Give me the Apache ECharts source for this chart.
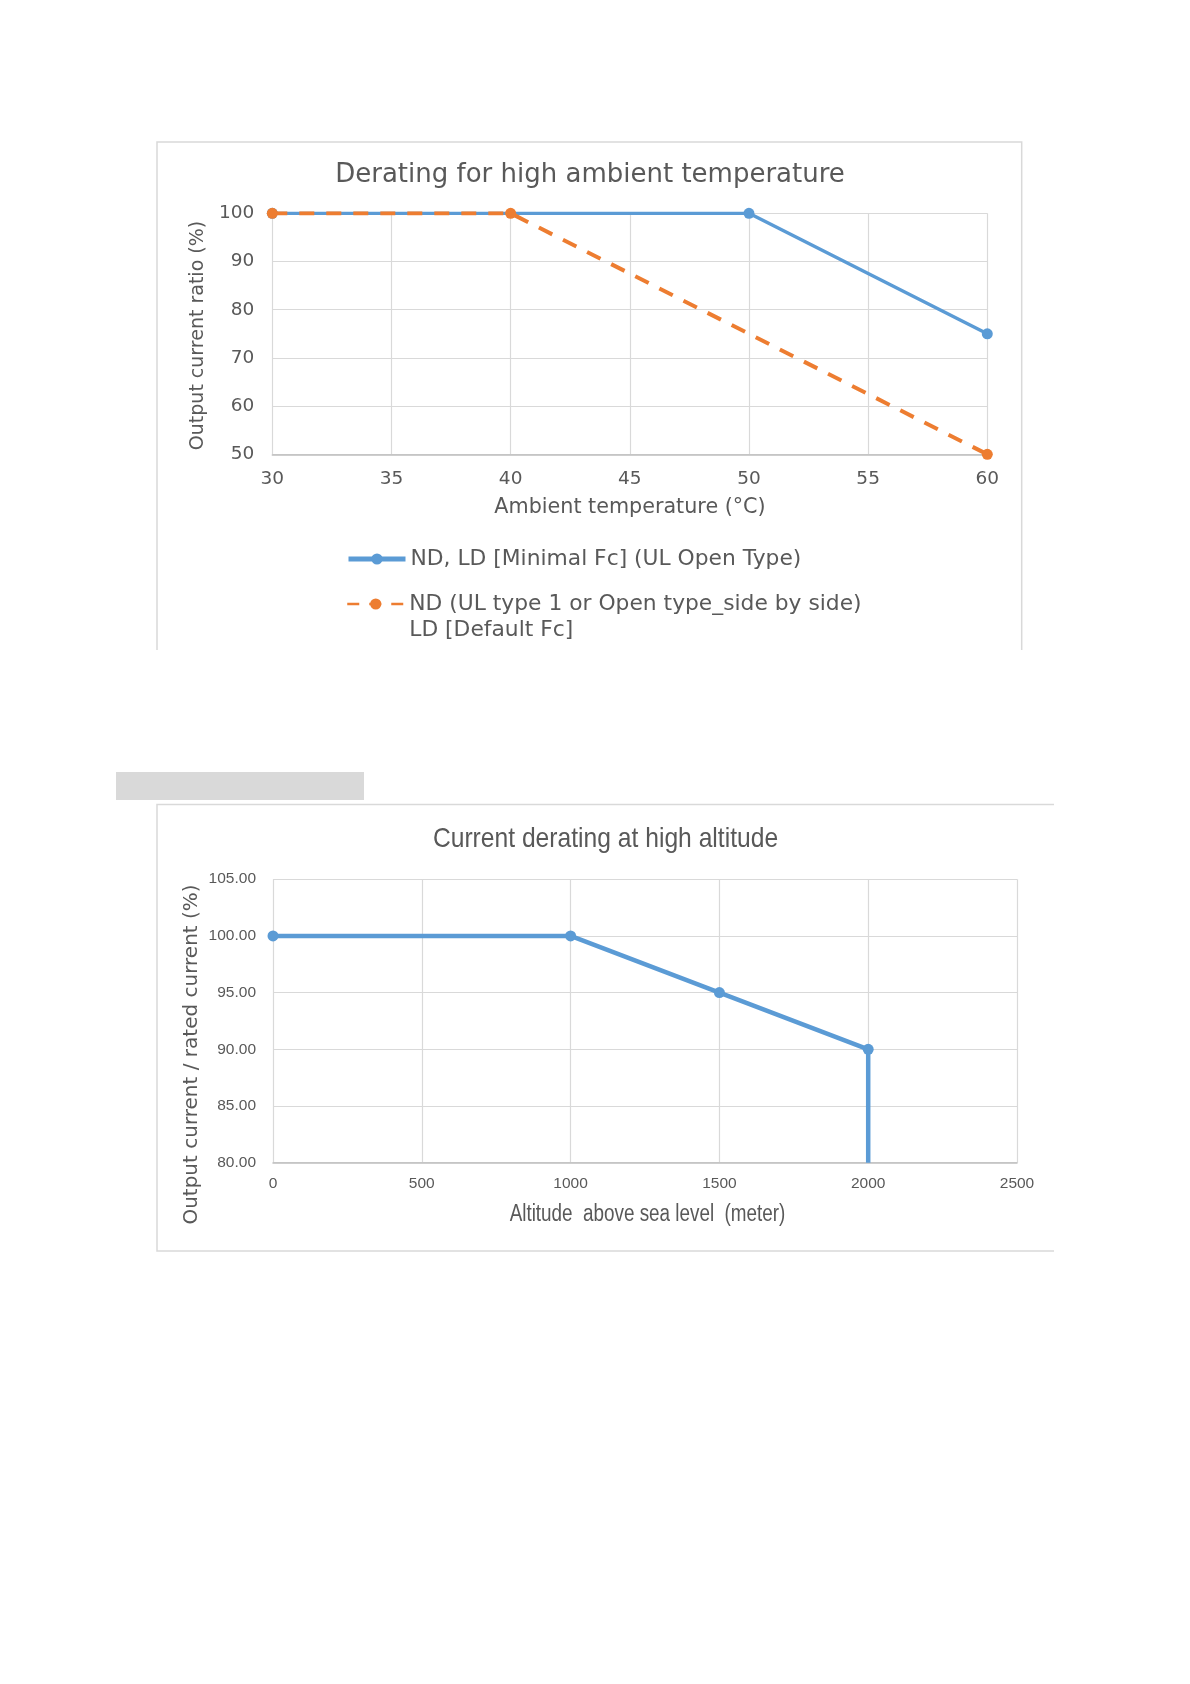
<!DOCTYPE html>
<html><head><meta charset="utf-8">
<script src="https://cdn.jsdelivr.net/npm/echarts@6/dist/echarts.min.js"></script>
<style>html,body{margin:0;padding:0;background:#fff}#c{width:1190px;height:1684px}</style>
</head><body><div id="c"></div>
<script>
// ---- Data: chart 1 (ambient temperature derating) ----
const tempTitle = 'Derating for high ambient temperature';
const tempXName = 'Ambient temperature (°C)';
const tempYName = 'Output current ratio (%)';
const blueName = 'ND, LD [Minimal Fc] (UL Open Type)';
const orangeName = 'ND (UL type 1 or Open type_side by side)\nLD [Default Fc]';
const blueTemp = [30, 50, 60];
const blueRatio = [100, 100, 75];
const orangeTemp = [30, 40, 60];
const orangeRatio = [100, 100, 50];

// ---- Data: chart 2 (altitude derating) ----
const altTitle = 'Current derating at high altitude';
const altXName = 'Altitude  above sea level  (meter)';
const altYName = 'Output current / rated current (%)';
const altMeters = [0, 1000, 1500, 2000, 2000];
const altRatio = [100, 100, 95, 90, 80];

const TXT = '#595959';
const GRID = '#D9D9D9';
const F1 = 'DejaVu Sans';
const F2 = 'Liberation Sans';

const zip = (a, b) => a.map((v, i) => [v, b[i]]);

const chart = echarts.init(document.getElementById('c'), null, {renderer: 'canvas'});
const axisLabel1 = {color: TXT, fontFamily: F1, fontSize: 18.5};
const axisLabel2 = {color: TXT, fontFamily: F2, fontSize: 15.5};
const legendText = {fontFamily: F1, fontSize: 21.8, color: TXT, lineHeight: 26};

chart.setOption({
  animation: false,
  grid: [
    {left: 272.3, top: 213.3, width: 715, height: 241},
    {left: 273, top: 879.2, width: 744, height: 283.5}
  ],
  xAxis: [
    {type: 'value', gridIndex: 0, min: 30, max: 60, interval: 5,
      axisLine: {show: true, lineStyle: {color: '#BFBFBF', width: 1.5}},
      axisTick: {show: false},
      splitLine: {show: true, lineStyle: {color: GRID, width: 1.2}},
      axisLabel: Object.assign({margin: 15}, axisLabel1)},
    {type: 'value', gridIndex: 1, min: 0, max: 2500, interval: 500,
      axisLine: {show: true, lineStyle: {color: '#BFBFBF', width: 1.5}},
      axisTick: {show: false},
      splitLine: {show: true, lineStyle: {color: GRID, width: 1.2}},
      axisLabel: Object.assign({margin: 13, formatter: v => String(v)}, axisLabel2)}
  ],
  yAxis: [
    {type: 'value', gridIndex: 0, min: 50, max: 100, interval: 10,
      axisLine: {show: false}, axisTick: {show: false},
      splitLine: {show: true, lineStyle: {color: GRID, width: 1.2}},
      axisLabel: Object.assign({margin: 18}, axisLabel1)},
    {type: 'value', gridIndex: 1, min: 80, max: 105, interval: 5,
      axisLine: {show: false}, axisTick: {show: false},
      splitLine: {show: true, lineStyle: {color: GRID, width: 1.2}},
      axisLabel: Object.assign({margin: 17, formatter: v => v.toFixed(2)}, axisLabel2)}
  ],
  legend: [
    {data: [blueName], orient: 'vertical', left: 346, top: 546, padding: 0,
      itemWidth: 57, itemHeight: 14, itemGap: 0, selectedMode: false,
      lineStyle: {width: 5}, textStyle: legendText},
    {data: [orangeName], orient: 'vertical', left: 346, top: 565, padding: 0,
      itemWidth: 57, itemHeight: 14, itemGap: 0, selectedMode: false,
      formatter: name => '\n' + name,
      lineStyle: {width: 2.5, type: [12, 10]}, textStyle: legendText}
  ],
  series: [
    {name: blueName, type: 'line', xAxisIndex: 0, yAxisIndex: 0,
      data: zip(blueTemp, blueRatio), symbol: 'circle', symbolSize: 11,
      lineStyle: {color: '#5B9BD5', width: 3.5}, itemStyle: {color: '#5B9BD5'}, z: 2},
    {name: orangeName, type: 'line', xAxisIndex: 0, yAxisIndex: 0,
      data: zip(orangeTemp, orangeRatio), symbol: 'circle', symbolSize: 11,
      lineStyle: {color: '#ED7D31', width: 4, type: [15, 12]}, itemStyle: {color: '#ED7D31'}, z: 3},
    {name: 'altitude', type: 'line', xAxisIndex: 1, yAxisIndex: 1,
      data: zip(altMeters, altRatio),
      symbol: (v, p) => (p.dataIndex === altMeters.length - 1 ? 'none' : 'circle'), symbolSize: 11,
      lineStyle: {color: '#5B9BD5', width: 4.5}, itemStyle: {color: '#5B9BD5'}}
  ],
  graphic: [
    {type: 'polyline', shape: {points: [[157, 650], [157, 142], [1021.7, 142], [1021.7, 650]]},
      style: {stroke: GRID, lineWidth: 1.5, fill: null}, silent: true},
    {type: 'rect', shape: {x: 116, y: 772, width: 248, height: 28}, style: {fill: '#D9D9D9'}, silent: true},
    {type: 'polyline', shape: {points: [[1054, 804.5], [157, 804.5], [157, 1251], [1054, 1251]]},
      style: {stroke: GRID, lineWidth: 1.5, fill: null}, silent: true},
    {type: 'text', x: 590, y: 175, style: {text: tempTitle, fontFamily: F1, fontSize: 26, fill: TXT, align: 'center', verticalAlign: 'middle'}},
    {type: 'text', x: 630, y: 508, style: {text: tempXName, fontFamily: F1, fontSize: 20.7, fill: TXT, align: 'center', verticalAlign: 'middle'}},
    {type: 'text', x: 198, y: 335.5, rotation: Math.PI / 2, style: {text: tempYName, fontFamily: F1, fontSize: 19, fill: TXT, align: 'center', verticalAlign: 'middle'}},
    {type: 'text', x: 605.5, y: 839, scaleX: 0.88, style: {text: altTitle, fontFamily: F2, fontSize: 28, fill: TXT, align: 'center', verticalAlign: 'middle'}},
    {type: 'text', x: 647.5, y: 1215, scaleX: 0.82, style: {text: altXName, fontFamily: F2, fontSize: 23, fill: TXT, align: 'center', verticalAlign: 'middle'}},
    {type: 'text', x: 191.7, y: 1054.5, rotation: Math.PI / 2, style: {text: altYName, fontFamily: F1, fontSize: 20, fill: TXT, align: 'center', verticalAlign: 'middle'}}
  ]
});
</script>
</body></html>
